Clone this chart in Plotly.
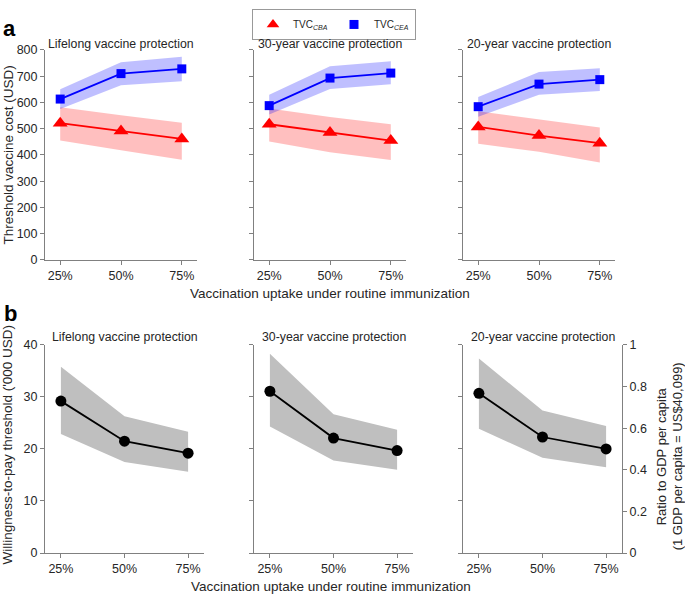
import plotly.graph_objects as go

# ---------------- data ----------------
uptake = [25, 50, 75]
uptake_labels = ["25%", "50%", "75%"]
scenarios = ["Lifelong vaccine protection", "30-year vaccine protection", "20-year vaccine protection"]

# Panel a: threshold vaccine cost (USD), per scenario
cea_mid = [[613, 710, 728], [588, 693, 712], [584, 670, 687]]
cea_low = [[575, 666, 681], [554, 651, 669], [546, 629, 644]]
cea_high = [[650, 753, 774], [629, 738, 757], [621, 716, 730]]

cba_mid = [[521, 491, 461], [517, 486, 455], [507, 474, 445]]
cba_low = [[455, 418, 382], [451, 410, 381], [443, 412, 371]]
cba_high = [[582, 551, 523], [577, 545, 517], [567, 536, 505]]

# Panel b: willingness-to-pay threshold ('000 USD)
wtp_mid = [[29.2, 21.5, 19.2], [31.1, 22.1, 19.7], [30.7, 22.3, 20.0]]
wtp_low = [[22.9, 17.5, 15.6], [24.3, 17.8, 16.0], [23.9, 18.3, 16.5]]
wtp_high = [[35.8, 26.3, 23.3], [38.3, 26.7, 23.7], [37.4, 27.4, 24.4]]

ratio_ticks = [0, 0.2, 0.4, 0.6, 0.8, 1]
ratio_labels = ["0", "0.2", "0.4", "0.6", "0.8", "1"]

# ---------------- layout helpers ----------------
W, H = 685, 602
FONT = "Liberation Sans, Arial, sans-serif"
TXT = "#262626"
AX = "#808080"

def px_x(p):
    return p / W

def px_y(p):
    return 1 - p / H

a_dom_x = [(45, 197), (254, 406), (463, 615)]
b_dom_x = [(45, 204), (254, 413), (463, 622)]
a_dom_y = (44, 259)
b_dom_y = (346, 559)

fig = go.Figure()

def band(xa, ya, low, high, color):
    fig.add_trace(go.Scatter(
        x=uptake + uptake[::-1], y=high + low[::-1],
        fill="toself", fillcolor=color, line=dict(width=0),
        mode="lines", hoverinfo="skip", showlegend=False,
        xaxis=xa, yaxis=ya))

for i in range(3):
    xa, ya = f"x{i+1}", f"y{i+1}"
    band(xa, ya, cba_low[i], cba_high[i], "rgba(255,0,0,0.25)")
    band(xa, ya, cea_low[i], cea_high[i], "rgba(0,0,255,0.25)")
    fig.add_trace(go.Scatter(x=uptake, y=cba_mid[i], mode="lines+markers",
                             line=dict(color="#ff0000", width=1.8),
                             marker=dict(symbol="triangle-up", size=13, color="#ff0000"),
                             showlegend=False, xaxis=xa, yaxis=ya))
    fig.add_trace(go.Scatter(x=uptake, y=cea_mid[i], mode="lines+markers",
                             line=dict(color="#0000ff", width=1.8),
                             marker=dict(symbol="square", size=9, color="#0000ff"),
                             showlegend=False, xaxis=xa, yaxis=ya))

for i in range(3):
    xa, ya = f"x{i+4}", f"y{i+4}"
    band(xa, ya, wtp_low[i], wtp_high[i], "#bfbfbf")
    fig.add_trace(go.Scatter(x=uptake, y=wtp_mid[i], mode="lines+markers",
                             line=dict(color="#000000", width=1.8),
                             marker=dict(symbol="circle", size=11, color="#000000"),
                             showlegend=False, xaxis=xa, yaxis=ya))

# legend-only entries
fig.add_trace(go.Scatter(x=[None], y=[None], mode="markers", name="TVC<sub><i>CBA</i></sub>",
                         marker=dict(symbol="triangle-up", size=11, color="#ff0000"),
                         xaxis="x1", yaxis="y1"))
fig.add_trace(go.Scatter(x=[None], y=[None], mode="markers", name="TVC<sub><i>CEA</i></sub>",
                         marker=dict(symbol="square", size=9, color="#0000ff"),
                         xaxis="x1", yaxis="y1"))

axis_common = dict(showline=True, linecolor=AX, linewidth=1, ticks="outside",
                   tickcolor=AX, ticklen=4, showgrid=False, zeroline=False,
                   tickfont=dict(family=FONT, size=12.5, color=TXT))

layout = dict(width=W, height=H, margin=dict(l=0, r=0, t=0, b=0),
              paper_bgcolor="white", plot_bgcolor="white",
              font=dict(family=FONT, color=TXT),
              showlegend=True,
              legend=dict(orientation="h", x=px_x(334), y=px_y(2), xanchor="center", yanchor="top",
                          bordercolor="#999999", borderwidth=1, bgcolor="white",
                          font=dict(family=FONT, size=10, color=TXT),
                          itemwidth=30, entrywidth=36))

for i in range(6):
    dx = a_dom_x[i] if i < 3 else b_dom_x[i - 3]
    dy = a_dom_y if i < 3 else b_dom_y
    n = i + 1
    layout[f"xaxis{n}"] = dict(axis_common, domain=[px_x(dx[0]), px_x(dx[1])],
                               range=[18.75, 81.25], tickvals=uptake, ticktext=uptake_labels,
                               anchor=f"y{n}")
    if i < 3:
        yr, dt = [0, 800], 100
    else:
        yr, dt = [0, 40], 10
    layout[f"yaxis{n}"] = dict(axis_common, domain=[px_y(dy[1]), px_y(dy[0])],
                               range=yr, dtick=dt, anchor=f"x{n}",
                               showticklabels=(i % 3 == 0))

# right-hand ratio axis (1 GDP per capita ~ 40 thousand USD)
layout["yaxis7"] = dict(axis_common, overlaying="y6", side="right", anchor="x6",
                        range=[0, 1], tickvals=ratio_ticks, ticktext=ratio_labels)
fig.add_trace(go.Scatter(x=[None], y=[None], xaxis="x6", yaxis="y7", showlegend=False))

fig.update_layout(**layout)

ann = []
def text(x, y, s, size=13, angle=0, bold=False, xanchor="center"):
    ann.append(dict(x=px_x(x), y=px_y(y), xref="paper", yref="paper", text=(f"<b>{s}</b>" if bold else s),
                    showarrow=False, textangle=angle, xanchor=xanchor, yanchor="middle",
                    font=dict(family=FONT, size=size, color=("#000000" if bold else TXT))))

for i in range(3):
    text((a_dom_x[i][0] + a_dom_x[i][1]) / 2, 38, scenarios[i], size=12.3)
    text((b_dom_x[i][0] + b_dom_x[i][1]) / 2, 338, scenarios[i], size=12.3)

text(9, 22, "a", size=22, bold=True)
text(10, 314, "b", size=22, bold=True)
text(330, 293, "Vaccination uptake under routine immunization", size=13.5)
text(331, 593, "Vaccination uptake under routine immunization", size=13.5)
text(8, 152, "Threshold vaccine cost (USD)", size=13.5, angle=-90)
text(8, 448, "Willingness-to-pay threshold ('000 USD)", size=13.5, angle=-90)
text(661, 460, "Ratio to GDP per capita", size=13, angle=-90)
text(677, 460, "(1 GDP per capita = US$40,099)", size=13, angle=-90)

fig.update_layout(annotations=ann)
fig.write_html("out.html", config={"displayModeBar": False},
               post_script="document.body.style.margin='0';")
